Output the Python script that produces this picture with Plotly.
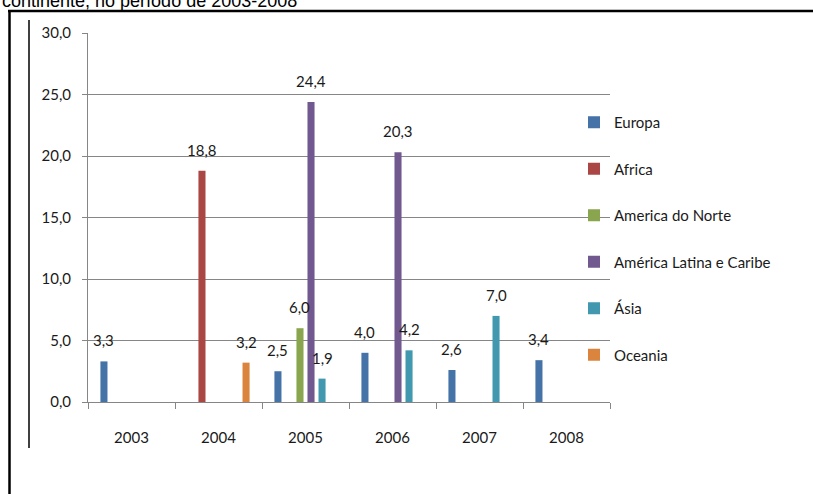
import plotly.graph_objects as go

years = ["2003", "2004", "2005", "2006", "2007", "2008"]
series_names = ["Europa", "Africa", "America do Norte", "América Latina e Caribe", "Ásia", "Oceania"]
europa = [3.3, None, 2.5, 4.0, 2.6, 3.4]
africa = [None, 18.8, None, None, None, None]
america_norte = [None, None, 6.0, None, None, None]
america_latina = [None, None, 24.4, 20.3, None, None]
asia = [None, None, 1.9, 4.2, 7.0, None]
oceania = [None, 3.2, None, None, None, None]
colors = ["#4572A7", "#AA4643", "#89A54E", "#71588F", "#4198AF", "#DB843D"]
y_ticks = [0, 5, 10, 15, 20, 25, 30]
title_text = "continente, no período de 2003-2008"

all_series = [europa, africa, america_norte, america_latina, asia, oceania]

W, H = 813, 494
L, R, T, B = 88, 203, 33, 92
PW, PH = W - L - R, H - T - B
BARGAP = 0.24
BARGROUPGAP = 0.36
FONT = "Lato"

def pxx(x):
    return (x - L) / PW

def pxy(y):
    return (H - B - y) / PH

xs = list(range(len(years)))
fig = go.Figure()
n = len(all_series)
slot = (1 - BARGAP) / n
annotations = []
for i, (name, vals, col) in enumerate(zip(series_names, all_series, colors)):
    fig.add_trace(go.Bar(
        x=xs, y=vals, name=name, marker=dict(color=col, line=dict(width=0)),
        legendgroup=name,
    ))
    off = (i - (n - 1) / 2) * slot
    for xi, v in zip(xs, vals):
        if v is None:
            continue
        annotations.append(dict(
            x=xi + off, y=v, xref="x", yref="y",
            text=f"{v:.1f}".replace(".", ","), showarrow=False,
            yanchor="bottom", xanchor="center", yshift=10,
            font=dict(family=FONT, size=15, color="#1a1a1a"),
        ))

annotations.append(dict(
    x=pxx(0), y=pxy(13), xref="paper", yref="paper", xanchor="left", yanchor="bottom",
    text=title_text, showarrow=False,
    font=dict(family="Liberation Sans, Arial", size=18, color="#000000"),
))

shapes = [
    # outer frame top
    dict(type="line", xref="paper", yref="paper", x0=pxx(8), x1=pxx(813), y0=pxy(11), y1=pxy(11),
         line=dict(color="#000000", width=2.5)),
    # outer frame left
    dict(type="line", xref="paper", yref="paper", x0=pxx(9.5), x1=pxx(9.5), y0=pxy(10), y1=pxy(494),
         line=dict(color="#000000", width=2.5)),
    # inner chart area left edge
    dict(type="line", xref="paper", yref="paper", x0=pxx(29), x1=pxx(29), y0=pxy(20), y1=pxy(448),
         line=dict(color="#404040", width=2)),
]

fig.update_layout(
    width=W, height=H,
    margin=dict(l=L, r=R, t=T, b=B),
    paper_bgcolor="white", plot_bgcolor="white",
    barmode="group", bargap=BARGAP, bargroupgap=BARGROUPGAP,
    separators=",.",
    font=dict(family=FONT, size=15, color="#1a1a1a"),
    showlegend=True,
    legend=dict(
        x=pxx(574), y=pxy(106), xanchor="left", yanchor="top",
        font=dict(family=FONT, size=15, color="#1a1a1a"),
        tracegroupgap=24, bgcolor="rgba(0,0,0,0)", itemclick=False,
    ),
    annotations=annotations,
    shapes=shapes,
)

fig.update_xaxes(
    range=[-0.5, len(years) - 0.5], tickvals=xs, ticktext=years, ticks="",
    showgrid=False, showline=True, linecolor="#868686", linewidth=1,
    zeroline=False, ticklabelstandoff=22,
    tickfont=dict(family=FONT, size=15, color="#1a1a1a"),
    minor=dict(tick0=-0.5, dtick=1, ticks="outside", ticklen=6, tickcolor="#868686", tickwidth=1, showgrid=False),
)
fig.update_yaxes(
    range=[0, 30], tickvals=y_ticks, tickformat=".1f",
    showgrid=True, gridcolor="#868686", gridwidth=1,
    showline=True, linecolor="#868686", linewidth=1,
    ticks="outside", ticklen=5, tickcolor="#868686",
    zeroline=False, ticklabelstandoff=8,
    tickfont=dict(family=FONT, size=15, color="#1a1a1a"),
)

fig.write_html("out.html")
